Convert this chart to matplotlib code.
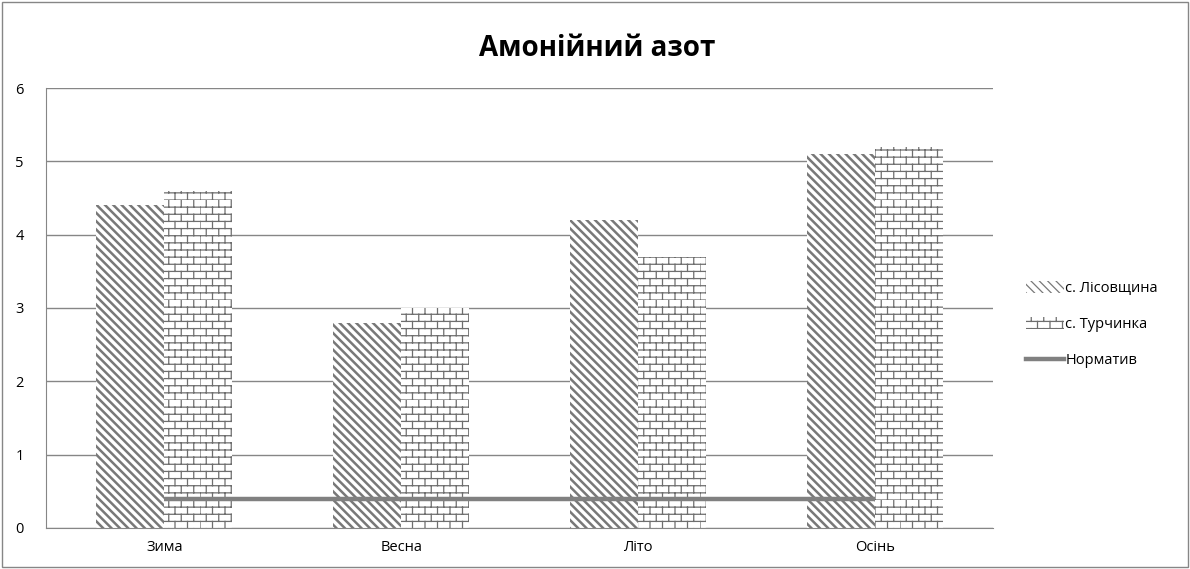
import warnings
import numpy as np
import matplotlib
matplotlib.use("Agg")
import matplotlib.pyplot as plt
from matplotlib import hatch as mhatch
from matplotlib.path import Path
from matplotlib.patches import Patch, Rectangle
from matplotlib.lines import Line2D

warnings.filterwarnings("ignore")

# ---------- Дані ----------
seasons = ["Зима", "Весна", "Літо", "Осінь"]
lisovshchyna = [4.4, 2.8, 4.2, 5.1]
turchynka = [4.6, 3.0, 3.7, 5.2]
normative = [0.4, 0.4, 0.4, 0.4]
series_names = ["с. Лісовщина", "с. Турчинка", "Норматив"]

DIAG = chr(92) * 4   # зворотні косі риски -> густе штрихування


# ---------- Штрихування "цегла" ----------
class BrickHatch(mhatch.HatchPatternBase):
    rows = 14
    cols = 8

    def __init__(self, hatch, density):
        self.on = 'b' in hatch
        self.num_vertices = (self.rows + self.rows * self.cols) * 2 if self.on else 0

    def set_vertices_and_codes(self, vertices, codes):
        pts = []
        for r in range(self.rows):
            y0 = r / self.rows
            y1 = (r + 1) / self.rows
            pts += [(0.0, y0), (1.0, y0)]
            off = 0.5 / self.cols if r % 2 else 0.0
            for c in range(self.cols):
                x = c / self.cols + off
                pts += [(x, y0), (x, y1)]
        vertices[:] = np.array(pts)
        codes[0::2] = Path.MOVETO
        codes[1::2] = Path.LINETO


mhatch._hatch_types.append(BrickHatch)

plt.rcParams['font.family'] = ['Open Sans', 'DejaVu Sans']

fig = plt.figure(figsize=(11.9, 5.69), dpi=100)
ax = fig.add_axes([0.0387, 0.0721, 0.7958, 0.7732])

x = np.arange(len(seasons))
w = 0.287

plt.rcParams['hatch.linewidth'] = 1.8
b1 = ax.bar(x - w / 2, lisovshchyna, w, color='white', edgecolor='#787878',
            linewidth=0, hatch=DIAG, zorder=2)
plt.rcParams['hatch.linewidth'] = 0.9
b2 = ax.bar(x + w / 2, turchynka, w, color='white', edgecolor='#6e6e6e',
            linewidth=0, hatch='b', zorder=2)
ln, = ax.plot(x, normative, color='#808080', lw=3.2, zorder=3,
              solid_capstyle='butt')

ax.set_xlim(-0.5, len(seasons) - 0.5)
ax.set_ylim(0, 6)
ax.set_yticks(range(0, 7))
ax.set_xticks(x)
ax.set_xticklabels(seasons)
ax.tick_params(axis='both', length=0, labelsize=10.5, colors='black')
ax.tick_params(axis='y', pad=16)
ax.tick_params(axis='x', pad=9)

ax.yaxis.grid(True, color='#868686', lw=1)
ax.set_axisbelow(True)
for s in ['top', 'right']:
    ax.spines[s].set_visible(False)
ax.spines['left'].set_color('#868686')
ax.spines['bottom'].set_color('#868686')

fig.text(0.502, 0.915, "Амонійний азот", ha='center', va='center',
         fontsize=20, fontweight='bold')

plt.rcParams['hatch.linewidth'] = 1.8
h1 = Patch(facecolor='white', edgecolor='#787878', linewidth=0, hatch=DIAG)
plt.rcParams['hatch.linewidth'] = 0.9
h2 = Patch(facecolor='white', edgecolor='#6e6e6e', linewidth=0, hatch='b')
h3 = Line2D([], [], color='#808080', lw=3.2)
fig.legend([h1, h2, h3], series_names, loc='center left',
           bbox_to_anchor=(0.851, 0.43), frameon=False, fontsize=10.5,
           handlelength=2.6, handleheight=0.9, handletextpad=0.1,
           labelspacing=1.45)

# рамка навколо всієї діаграми
fig.patches.append(Rectangle((0.002, 0.003), 0.996, 0.994, transform=fig.transFigure,
                             fill=False, edgecolor='#868686', lw=1))

fig.savefig("out.png", dpi=100)
